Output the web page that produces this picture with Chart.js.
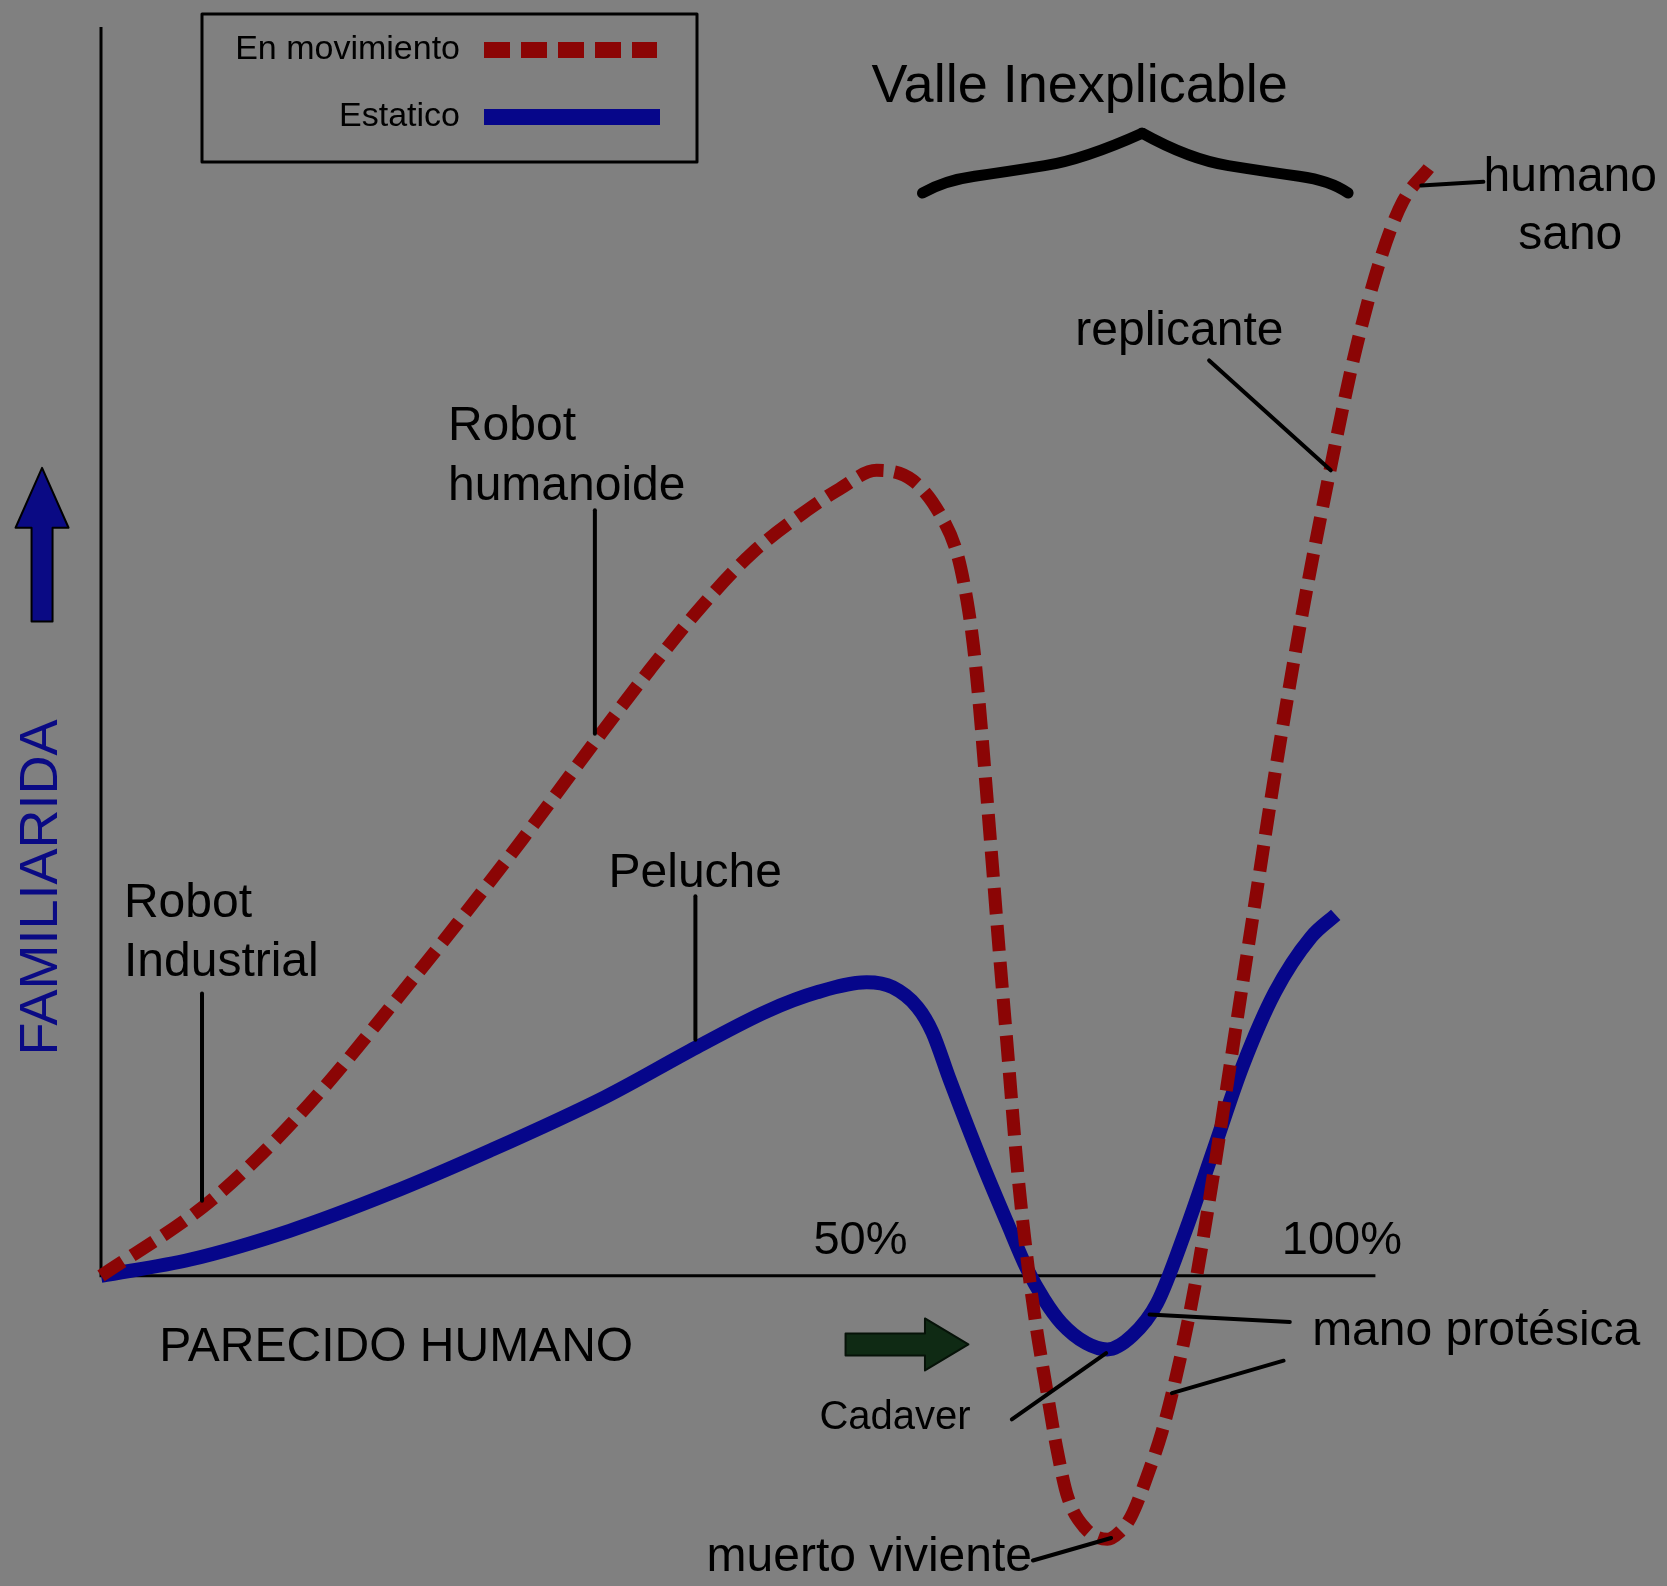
<!DOCTYPE html>
<html><head><meta charset="utf-8">
<script src="https://cdn.jsdelivr.net/npm/chart.js@4"></script>
<style>html,body{margin:0;padding:0;background:#808080;}canvas{display:block}</style>
</head><body>
<canvas id="c" width="1667" height="1586"></canvas>
<script>
// ---- data ----
const seriesNames = ['En movimiento', 'Estatico'];
const movingX = [0, 8.2, 12.6, 17.9, 23.3, 28.7, 34.0, 40.2, 44.2, 48.3, 52.5, 56.9, 59.5, 62.5, 65.4, 67.6, 69.0, 69.8, 70.3, 70.8, 71.3, 71.8, 72.4, 73.0, 73.9, 74.8, 75.4, 76.1, 77.0, 77.9, 79.3, 81.1, 82.0, 83.0, 84.5, 85.5, 86.3, 87.3, 88.3, 89.5, 91.2, 93.0, 94.7, 96.8, 99.0, 101.1, 103.2, 104.9, 107.0];
const movingY = [0, 5.5, 9.4, 15.0, 21.5, 28.2, 35.0, 43.3, 48.5, 53.5, 57.9, 61.3, 63.0, 64.5, 63.7, 61.0, 57.8, 54.0, 50.5, 45.5, 39.5, 33.3, 25.8, 18.7, 8.0, 0.0, -4.3, -8.5, -13.7, -17.7, -20.2, -21.1, -20.6, -19.3, -15.5, -12.5, -9.5, -5.1, 0.0, 7.2, 18.2, 29.9, 40.8, 53.0, 64.3, 74.1, 81.7, 86.0, 88.7];
const staticX = [0, 7.2, 15.2, 23.3, 31.3, 40.6, 48.0, 53.7, 57.7, 61.7, 63.8, 65.8, 67.0, 68.4, 71.1, 73.0, 74.6, 76.0, 77.4, 79.4, 81.1, 83.1, 85.1, 87.4, 89.7, 92.0, 94.6, 97.5, 99.5];
const staticY = [0, 1.3, 3.6, 6.6, 10.0, 14.3, 18.3, 21.2, 22.7, 23.5, 23.1, 21.5, 19.5, 15.7, 8.8, 4.3, 0.6, -1.9, -3.8, -5.4, -5.9, -4.8, -2.2, 3.6, 10.2, 16.8, 22.7, 27.1, 28.9];
const tickValues = [61.2, 100];
const tickLabels = ['50%', '100%'];
const xAxisTitle = 'PARECIDO HUMANO';
const yAxisTitle = 'FAMILIARIDA';
const valleyTitle = 'Valle Inexplicable';

// ---- annotation layout (data units) ----
const FONT = '"Liberation Sans", Arial, Helvetica, sans-serif';
const labels = [
  {t:'Robot', x:1.85, y:29.8, a:'left'}, {t:'Industrial', x:1.85, y:25.1, a:'left'},
  {t:'Robot', x:27.96, y:68.0, a:'left'}, {t:'humanoide', x:27.96, y:63.2, a:'left'},
  {t:'Peluche', x:40.9, y:32.2, a:'left'},
  {t:'humano', x:118.4, y:87.9, a:'center'}, {t:'sano', x:118.4, y:83.3, a:'center'},
  {t:'replicante', x:86.9, y:75.6, a:'center'},
  {t:'mano protésica', x:97.6, y:-4.5, a:'left'},
  {t:'muerto viviente', x:48.8, y:-22.6, a:'left'},
  {t:'Cadaver', x:57.9, y:-11.4, a:'left', s:40}
];
const pointers = [
  [[8.14,22.6],[8.14,6.0]],
  [[39.8,61.3],[39.8,43.4]],
  [[47.9,30.4],[47.9,18.9]],
  [[106.4,87.3],[111.4,87.6]],
  [[89.3,73.3],[99.1,64.5]],
  [[84.5,-3.1],[95.8,-3.7]],
  [[86.3,-9.4],[95.3,-6.8]],
  [[73.4,-11.5],[81.0,-6.2]],
  [[75.1,-22.8],[81.4,-21.0]]
];
const braceLeft = [[66.2,86.7],[67.9,87.7],[72.9,88.4],[79.2,89.4],[83.9,91.5]];
const braceRight = [[83.9,91.5],[87.7,89.4],[94.0,88.4],[99.1,87.7],[100.5,86.7]];

const overlay = {
  id:'overlay',
  beforeDraw(chart){
    const c = chart.ctx;
    c.save(); c.fillStyle = '#808080'; c.fillRect(0,0,chart.width,chart.height); c.restore();
  },
  beforeDatasetsDraw(chart){
    const c = chart.ctx, X = v=>chart.scales.x.getPixelForValue(v), Y = v=>chart.scales.y.getPixelForValue(v);
    c.save();
    c.strokeStyle = '#000'; c.lineWidth = 3; c.lineCap = 'butt';
    c.beginPath(); c.moveTo(X(0), Y(100)); c.lineTo(X(0), Y(0)); c.lineTo(X(102.7), Y(0)); c.stroke();
    c.fillStyle = '#000'; c.font = '47px ' + FONT; c.textAlign = 'center'; c.textBaseline = 'middle';
    tickValues.forEach((v,i)=> c.fillText(tickLabels[i], X(v), Y(2.8)));
    c.restore();
  },
  afterDatasetsDraw(chart){
    const c = chart.ctx, X = v=>chart.scales.x.getPixelForValue(v), Y = v=>chart.scales.y.getPixelForValue(v);
    c.save();
    c.strokeStyle = '#000'; c.lineWidth = 4; c.lineCap = 'round';
    pointers.forEach(p=>{ c.beginPath(); c.moveTo(X(p[0][0]),Y(p[0][1])); c.lineTo(X(p[1][0]),Y(p[1][1])); c.stroke(); });
    c.fillStyle = '#000'; c.textBaseline = 'middle';
    labels.forEach(l=>{ c.font = (l.s||48) + 'px ' + FONT; c.textAlign = l.a; c.fillText(l.t, X(l.x), Y(l.y)); });
    c.font = '54px ' + FONT; c.textAlign = 'left';
    c.fillText(valleyTitle, X(62.1), Y(95.2));
    c.lineWidth = 11; c.lineJoin = 'round';
    [braceLeft, braceRight].forEach(pts=>{
      const P = pts.map(p=>[X(p[0]),Y(p[1])]);
      c.beginPath(); c.moveTo(P[0][0],P[0][1]);
      for(let i=1;i<P.length-1;i++){
        const mx=(P[i][0]+P[i+1][0])/2, my=(P[i][1]+P[i+1][1])/2;
        c.quadraticCurveTo(P[i][0],P[i][1], i===P.length-2?P[i+1][0]:mx, i===P.length-2?P[i+1][1]:my);
      }
      c.stroke();
    });
    c.font = '48px ' + FONT; c.textAlign = 'left';
    c.fillText(xAxisTitle, X(4.7), Y(-5.8));
    const ay = Y(-5.5);
    c.fillStyle = '#0f2a14'; c.strokeStyle = '#061208'; c.lineWidth = 2;
    c.beginPath();
    c.moveTo(X(60.0), ay-11); c.lineTo(X(66.4), ay-11); c.lineTo(X(66.4), ay-26); c.lineTo(X(69.9), ay);
    c.lineTo(X(66.4), ay+26); c.lineTo(X(66.4), ay+11); c.lineTo(X(60.0), ay+11); c.closePath();
    c.fill(); c.stroke();
    const ax = X(-4.75);
    c.fillStyle = '#0a0a84'; c.strokeStyle = '#000'; c.lineWidth = 2;
    c.beginPath();
    c.moveTo(ax-10.5, Y(52.4)); c.lineTo(ax-10.5, Y(59.9)); c.lineTo(ax-26.5, Y(59.9)); c.lineTo(ax, Y(64.7));
    c.lineTo(ax+26.5, Y(59.9)); c.lineTo(ax+10.5, Y(59.9)); c.lineTo(ax+10.5, Y(52.4)); c.closePath();
    c.fill(); c.stroke();
    c.save(); c.translate(ax, Y(31.1)); c.rotate(-Math.PI/2);
    c.font = '54px ' + FONT; c.textAlign = 'center'; c.textBaseline = 'middle'; c.fillStyle = '#0a0a84';
    c.fillText(yAxisTitle, 0, 0); c.restore();
    // legend
    c.strokeStyle = '#000'; c.lineWidth = 3; c.setLineDash([]);
    c.strokeRect(202, 14, 495, 148);
    c.font = '34px ' + FONT; c.textAlign = 'right'; c.fillStyle = '#000';
    const ds = chart.data.datasets;
    const rows = [50, 117];
    ds.forEach((d,i)=>{
      c.fillStyle = '#000'; c.fillText(d.label, 460, rows[i]);
      c.strokeStyle = d.borderColor; c.lineWidth = 16; c.lineCap = 'butt';
      c.setLineDash(d.borderDash || []);
      c.beginPath(); c.moveTo(484, rows[i]); c.lineTo(i===0?657:660, rows[i]); c.stroke();
    });
    c.restore();
  }
};

new Chart(document.getElementById('c'), {
  type: 'line',
  data: {
    datasets: [
      { label: seriesNames[0], data: movingX.map((x,i)=>({x, y: movingY[i]})),
        borderColor: '#8b0505', borderWidth: 13, borderDash: [26, 11], borderCapStyle: 'butt',
        pointRadius: 0, cubicInterpolationMode: 'monotone', fill: false, clip: false },
      { label: seriesNames[1], data: staticX.map((x,i)=>({x, y: staticY[i]})),
        borderColor: '#06068a', borderWidth: 14, borderCapStyle: 'butt',
        pointRadius: 0, cubicInterpolationMode: 'monotone', fill: false, clip: false }
    ]
  },
  options: {
    responsive: false, animation: false,
    layout: { padding: { left: 101, top: 27, right: 201, bottom: 23 } },
    scales: {
      x: { type: 'linear', min: 0, max: 110, display: false },
      y: { type: 'linear', min: -23, max: 100, display: false }
    },
    plugins: { legend: { display: false }, tooltip: { enabled: false } },
    events: []
  },
  plugins: [overlay]
});
</script>
</body></html>
